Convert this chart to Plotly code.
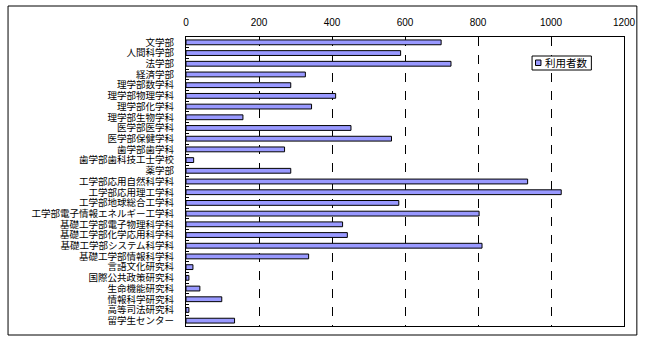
import plotly.graph_objects as go

categories = [
    "文学部", "人間科学部", "法学部", "経済学部", "理学部数学科", "理学部物理学科",
    "理学部化学科", "理学部生物学科", "医学部医学科", "医学部保健学科", "歯学部歯学科",
    "歯学部歯科技工士学校", "薬学部", "工学部応用自然科学科", "工学部応用理工学科",
    "工学部地球総合工学科", "工学部電子情報エネルギー工学科", "基礎工学部電子物理科学科",
    "基礎工学部化学応用科学科", "基礎工学部システム科学科", "基礎工学部情報科学科",
    "言語文化研究科", "国際公共政策研究科", "生命機能研究科", "情報科学研究科",
    "高等司法研究科", "留学生センター",
]
users = [699, 588, 726, 327, 287, 410, 344, 156, 452, 563, 270, 21, 287,
         936, 1028, 583, 803, 429, 442, 811, 336, 19, 8, 38, 98, 8, 133]
series_name = "利用者数"
x_ticks = [0, 200, 400, 600, 800, 1000, 1200]

W, H = 648, 343
L, R, T, B = 186, 629, 37, 326
pw, ph = R - L, B - T
BAR_COLOR = "#9999FF"


def px_x(p):
    return (p - L) / pw


def px_y(p):
    return (B - p) / ph


fig = go.Figure()
fig.add_trace(go.Bar(
    y=categories, x=users, orientation="h", name=series_name,
    width=0.45,
    marker=dict(color=BAR_COLOR, line=dict(color="black", width=1)),
    showlegend=False,
))

font = "Liberation Sans, Noto Sans CJK JP"
fig.update_layout(
    width=W, height=H,
    margin=dict(l=L, r=W - R, t=T, b=H - B),
    paper_bgcolor="white", plot_bgcolor="white",
    font=dict(family=font, size=9.5, color="black"),
    showlegend=False,
    xaxis=dict(
        side="top", range=[0, 1200], tickmode="array", tickvals=x_ticks,
        ticktext=[str(v) for v in x_ticks],
        showgrid=True, gridcolor="black", griddash="dash", gridwidth=1,
        showline=True, linecolor="black", linewidth=1, mirror=True,
        zeroline=False, ticks="", ticklabelstandoff=6,
        tickfont=dict(family=font, size=10),
    ),
    yaxis=dict(
        categoryorder="array", categoryarray=categories,
        tickmode="array", tickvals=categories, ticktext=categories,
        autorange="reversed",
        showline=True, linecolor="black", linewidth=1, mirror=True,
        showgrid=False, zeroline=False,
        ticks="inside", tickson="boundaries", ticklen=3,
        tickcolor="black", tickwidth=1,
        ticklabelstandoff=9,
        tickfont=dict(family=font, size=9.5),
    ),
)

# legend box (frame + text)
fig.add_shape(
    type="rect", xref="paper", yref="paper",
    x0=px_x(536), x1=px_x(596), y0=px_y(70), y1=px_y(56),
    line=dict(color="black", width=1), fillcolor="white", layer="above",
)
fig.add_shape(
    type="rect", xref="paper", yref="paper",
    x0=px_x(539.5), x1=px_x(545), y0=px_y(65.5), y1=px_y(60),
    line=dict(color="black", width=1), fillcolor=BAR_COLOR, layer="above",
)
fig.add_annotation(
    xref="paper", yref="paper",
    x=px_x(547), y=px_y(63), xanchor="left", yanchor="middle",
    text=series_name, showarrow=False,
    font=dict(family=font, size=10.5),
)

# outer chart frame
fig.add_shape(
    type="rect", xref="paper", yref="paper",
    x0=px_x(6), x1=px_x(642), y0=px_y(335), y1=px_y(6),
    line=dict(color="black", width=1), fillcolor="rgba(0,0,0,0)",
    layer="below",
)

fig.write_html("out.html")
